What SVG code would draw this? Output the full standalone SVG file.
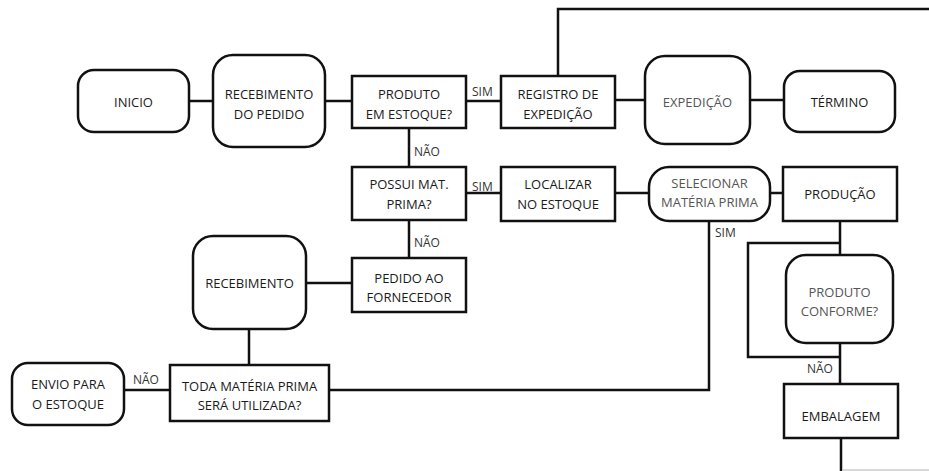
<svg xmlns="http://www.w3.org/2000/svg" width="929" height="471" viewBox="0 0 929 471">
<style>
.box{fill:#fff;stroke:#111;stroke-width:2.5}
.ln{fill:none;stroke:#111;stroke-width:2.5}
.t{font-family:"Open Sans","Liberation Sans",sans-serif;font-size:13px;font-weight:500;fill:#1a1a1a;text-anchor:middle}
.tl{font-family:"Open Sans","Liberation Sans",sans-serif;font-size:13px;font-weight:400;fill:#555;text-anchor:middle}
.lab{font-family:"Open Sans","Liberation Sans",sans-serif;font-size:12px;font-weight:400;fill:#333}
</style>
<rect width="929" height="471" fill="#fff"/>
<g id="connectors">
<path class="ln" d="M189 101H213M325 101H352M466 101H501M615 100H645M750 100H784"/>
<path class="ln" d="M558 76V9H929"/>
<path class="ln" d="M409 128V167M466 193H501M615 193H649M770 193H783M409 220V258M306 283H352M249 329V365M124 390H170"/>
<path class="ln" d="M329 390H709V221"/>
<path class="ln" d="M840 221V255M840 243H748V357H840M840 343V384M841 438V471"/>
<path d="M842 470H929" fill="none" stroke="#ccc" stroke-width="1.5"/>
<text class="lab" x="472" y="96">SIM</text>
<text class="lab" x="414" y="156">NÃO</text>
<text class="lab" x="472" y="191">SIM</text>
<text class="lab" x="414" y="247">NÃO</text>
<text class="lab" x="715" y="237">SIM</text>
<text class="lab" x="133" y="384">NÃO</text>
<text class="lab" x="807" y="373">NÃO</text>
</g>
<g id="inicio"><rect class="box" x="78" y="70" width="111" height="62" rx="16"/><text class="t" x="133.5" y="107">INICIO</text></g>
<g id="recebimento-pedido"><rect class="box" x="213" y="55" width="112" height="92" rx="20"/><text class="t" x="269" y="99">RECEBIMENTO</text><text class="t" x="269" y="119">DO PEDIDO</text></g>
<g id="produto-estoque"><rect class="box" x="352" y="76" width="114" height="52"/><text class="t" x="409" y="99">PRODUTO</text><text class="t" x="409" y="119">EM ESTOQUE?</text></g>
<g id="registro"><rect class="box" x="501" y="76" width="114" height="52"/><text class="t" x="558" y="99">REGISTRO DE</text><text class="t" x="558" y="119">EXPEDIÇÃO</text></g>
<g id="expedicao"><rect class="box" x="645" y="56" width="105" height="88" rx="20"/><text class="tl" x="697.5" y="107">EXPEDIÇÃO</text></g>
<g id="termino"><rect class="box" x="784" y="71" width="111" height="61" rx="16"/><text class="t" x="839.5" y="107">TÉRMINO</text></g>
<g id="possui"><rect class="box" x="352" y="167" width="114" height="53"/><text class="t" x="409" y="189">POSSUI MAT.</text><text class="t" x="409" y="209">PRIMA?</text></g>
<g id="localizar"><rect class="box" x="501" y="167" width="114" height="54"/><text class="t" x="558" y="189">LOCALIZAR</text><text class="t" x="558" y="209">NO ESTOQUE</text></g>
<g id="selecionar"><rect class="box" x="649" y="167" width="121" height="54" rx="20"/><text class="tl" x="709.5" y="188">SELECIONAR</text><text class="tl" x="709.5" y="207">MATÉRIA PRIMA</text></g>
<g id="producao"><rect class="box" x="783" y="167" width="114" height="54"/><text class="t" x="840" y="199">PRODUÇÃO</text></g>
<g id="pedido-fornecedor"><rect class="box" x="352" y="258" width="114" height="54"/><text class="t" x="409" y="283">PEDIDO AO</text><text class="t" x="409" y="302">FORNECEDOR</text></g>
<g id="recebimento"><rect class="box" x="193" y="236" width="113" height="93" rx="20"/><text class="t" x="249.5" y="288">RECEBIMENTO</text></g>
<g id="toda-materia"><rect class="box" x="170" y="365" width="159" height="56"/><text class="t" x="249.5" y="391">TODA MATÉRIA PRIMA</text><text class="t" x="249.5" y="410">SERÁ UTILIZADA?</text></g>
<g id="envio"><rect class="box" x="12" y="363" width="112" height="62" rx="16"/><text class="t" x="68" y="389">ENVIO PARA</text><text class="t" x="68" y="409">O ESTOQUE</text></g>
<g id="produto-conforme"><rect class="box" x="786" y="255" width="107" height="88" rx="20"/><text class="tl" x="839.5" y="297">PRODUTO</text><text class="tl" x="839.5" y="316">CONFORME?</text></g>
<g id="embalagem"><rect class="box" x="784" y="384" width="114" height="54"/><text class="t" x="841" y="421">EMBALAGEM</text></g>
</svg>
